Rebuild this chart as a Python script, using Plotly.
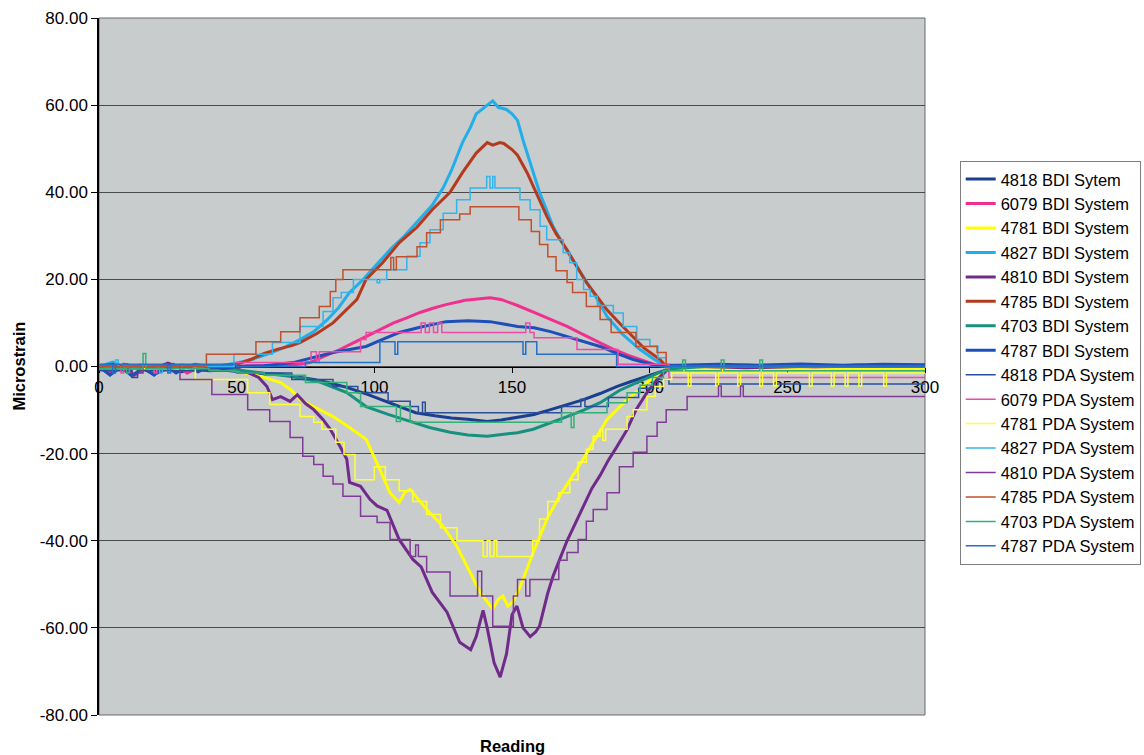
import plotly.graph_objects as go

# ---------------- data ----------------
x_ticks = [0, 50, 100, 150, 200, 250, 300]
y_ticks = [-80, -60, -40, -20, 0, 20, 40, 60, 80]
y_tick_text = ["-80.00", "-60.00", "-40.00", "-20.00", "0.00", "20.00", "40.00", "60.00", "80.00"]

# BDI system (thick, smooth)
bdi_4818_x = [0, 4, 8, 12, 16, 20, 25, 30, 35, 40, 45, 54, 60, 66, 72, 78, 84, 90, 98, 106, 115, 122, 128, 134, 141, 146, 152, 158, 164, 170, 176, 182, 188, 193, 197, 201, 205, 208, 215, 225, 235, 245, 255, 265, 275, 285, 295, 300]
bdi_4818_y = [0, -1.5, -0.3, -2, -0.5, -1.8, -0.4, -1.2, -0.6, -1.0, -0.8, -1.4, -1.6, -1.8, -2.4, -3.0, -3.8, -4.8, -6.5, -8.5, -10.6, -11.3, -11.8, -12.1, -12.6, -12.3, -11.7, -11.0, -9.9, -8.8, -7.6, -6.2, -4.6, -3.5, -2.6, -1.8, -1.0, -0.3, 0.2, 0, 0.3, 0.1, 0.2, 0, 0.3, 0.1, 0.2, 0.1]

bdi_6079_x = [0, 5, 9, 13, 18, 22, 27, 32, 37, 42, 48, 55, 62, 70, 76.6, 82, 87.5, 92, 97, 102, 107, 112, 116.6, 121, 126, 133, 138, 142, 146, 152, 158, 164, 170, 175, 180, 187, 192, 196.5, 200, 203, 206, 215, 230, 245, 260, 275, 290, 300]
bdi_6079_y = [0, -1.5, 0.5, -2, 0, -1, 0.5, -1.5, 0, -0.5, 0, 0.2, 0.2, 0.3, 0.9, 2.3, 3.9, 5.3, 6.9, 8.5, 10, 11.2, 12.4, 13.3, 14.2, 15.2, 15.6, 15.8, 15.4, 14.0, 12.4, 10.8, 9.2, 7.6, 6.0, 3.9, 2.6, 1.6, 0.8, 0.2, 0, 0, -0.2, 0, -0.2, 0, -0.1, 0]

bdi_4781_x = [0, 10, 20, 30, 40, 45, 50, 55, 60, 66, 70, 73, 79, 85, 91, 97, 102, 105.7, 109, 111, 113, 116, 119, 125, 130, 133.7, 138.4, 141, 143, 145, 146.7, 148.5, 150.4, 153, 157.7, 162.7, 167.5, 173.6, 179.4, 184.5, 188, 191.8, 196, 199, 203, 207, 220, 240, 260, 280, 300]
bdi_4781_y = [0, -0.5, 0.3, -0.6, 0, -0.5, -1, -1.8, -2.5, -3.7, -5.5, -7.6, -9.5, -11.5, -14, -16.7, -23.6, -29, -31.2, -29, -28.2, -30.5, -32.8, -36.7, -41.3, -45.9, -51.8, -54, -55.7, -53.5, -52.7, -55, -54, -50.5, -42.7, -35, -29.5, -23.6, -17.4, -12.2, -10, -7.6, -5.5, -3.7, -2, -0.5, -0.8, -0.5, -0.8, -0.5, -0.6]

bdi_4827_x = [0, 5, 10, 15, 20, 25, 30, 35, 40, 45, 50, 55, 61, 67, 73, 78, 83, 87, 91, 96, 101, 106, 111, 116, 121, 125, 128, 132, 135, 137, 140, 143, 145, 148, 150, 152, 154, 156.6, 160, 165, 170, 175, 180, 184.5, 190, 196.5, 202, 206, 215, 230, 245, 260, 275, 290, 300]
bdi_4827_y = [0, 1, -0.5, 0.3, -1, 0.2, -0.3, 0.5, 0, 0.3, 0.8, 1.5, 2.8, 4.3, 6.2, 8.0, 10.8, 13.5, 17.0, 20.0, 23.5, 27.0, 30.0, 33.5, 37.0, 41.0, 45.0, 51.4, 55.0, 58.0, 59.5, 61.0, 59.5, 59.0, 58.0, 56.5, 52.0, 46.8, 40.0, 32.0, 26.5, 21.5, 16.5, 11.5, 7.5, 3.9, 1.5, 0, 0.3, 0, 0.2, 0, 0.3, 0, 0.1]

bdi_4810_x = [0, 5, 10, 15, 20, 25, 30, 35, 40, 45, 50, 54, 58, 61, 63, 66, 69.4, 72, 75, 78, 81.4, 84, 87.5, 90, 91, 95, 98.4, 101, 104.6, 109, 114, 117, 121, 126.4, 131, 135, 137, 139.5, 141, 143.5, 145.7, 148, 150, 151.8, 154, 156.6, 158.5, 160, 163, 165, 167.5, 170, 173, 176, 179, 182, 185, 188, 191.8, 195, 199, 202.7, 206, 210, 220, 235, 250, 265, 280, 300]
bdi_4810_y = [0, 0.5, -0.8, 0.3, -0.5, 0.8, -0.3, 0.4, -0.2, 0, -0.5, -1.4, -2.5, -4.6, -7.6, -6.9, -8.0, -6.5, -8.5, -9.9, -12.2, -14.4, -18.3, -21.3, -26.6, -27.5, -30.5, -32, -33, -39.7, -44.3, -46, -51.8, -56.4, -63.3, -65, -62, -56, -60, -68, -71.3, -66, -57, -55, -60, -62, -61, -59.6, -52, -48, -44, -40, -36, -32, -28, -25, -21.5, -18.5, -14.5, -10, -6, -3, -1, 0, 0, -0.3, 0, 0.2, 0, 0]

bdi_4785_x = [0, 10, 20, 30, 40, 45, 50, 55, 60, 65, 70, 73, 79, 85, 89, 93.7, 97, 103, 109, 115.5, 121, 127.5, 132, 137, 141, 143, 145.6, 147, 150, 152, 155.5, 159, 162.7, 166, 170, 173.5, 177, 181, 184.5, 189, 194, 198, 203.8, 206, 220, 240, 260, 280, 300]
bdi_4785_y = [0, 0.2, -0.2, 0.3, 0, 0.2, 0.5, 1.6, 3.0, 4.0, 4.8, 5.5, 7.5, 10.0, 12.5, 15.4, 20.0, 23.8, 28.4, 32.0, 36.0, 40.0, 44.5, 49.0, 51.4, 50.8, 51.4, 51.2, 49.8, 48.5, 44.5, 39.5, 34.4, 30.5, 26.8, 23.0, 19.3, 16.0, 13.0, 10.0, 6.9, 4.2, 1.6, 0, 0, 0.2, 0, 0.1, 0]

bdi_4703_x = [0, 5, 10, 15, 20, 25, 30, 35, 40, 45, 50, 60, 70, 80, 90, 97, 105, 113, 120, 127.5, 134, 141, 148, 152, 157.7, 164, 170, 176, 182, 189, 196.5, 203, 208, 220, 240, 260, 280, 300]
bdi_4703_y = [0, -0.5, 0.5, -0.8, 0.2, -0.5, 0, -0.6, 0, -0.4, -0.8, -1.5, -2.3, -3.5, -6.0, -9.2, -11.0, -12.6, -14.0, -15.1, -15.7, -16.0, -15.6, -15.2, -14.4, -13.0, -11.5, -10.0, -8.3, -5.5, -3.4, -1.5, -0.5, 0, 0.2, 0, 0.1, 0]

bdi_4787_x = [0, 4, 8, 12, 16, 20, 24, 28, 32, 36, 40, 45, 50, 60, 70.5, 78, 85, 91, 97, 103, 109, 116.6, 126, 134, 142, 152, 158, 164, 170, 176, 182, 188, 194, 202, 210, 225, 240, 255, 270, 285, 300]
bdi_4787_y = [0, -2, 0, -2.2, -0.3, -2, 0.2, -1.5, 0, -1.2, 0, -0.5, 0, 0.2, 0.9, 2.0, 3.2, 3.9, 4.6, 6.2, 7.8, 9.0, 10.3, 10.5, 10.3, 9.2, 8.9, 8.0, 6.9, 5.8, 4.6, 3.0, 1.6, 0.3, 0.3, 0.5, 0.3, 0.6, 0.3, 0.5, 0.4]

# PDA system (thin, stepped)
pda_4818_x = [0, 12, 14, 30, 50, 70, 85, 94, 105, 113, 116, 117.5, 118.5, 168, 175, 176.5, 185, 196, 203, 207, 300]
pda_4818_y = [-1, -2.5, -1, -1, -1.5, -3, -4.6, -6, -8, -9.2, -10.6, -8.2, -10.6, -9.2, -7.5, -9.2, -7.1, -5, -3, -4, -4]

pda_6079_x = [0, 8, 9, 20, 21, 49, 77, 79, 80, 95, 97, 112, 117, 118.5, 120, 121.5, 123, 124.5, 126, 155, 156.5, 158, 173.6, 188.5, 207, 300]
pda_6079_y = [0, -1.5, 0, -1.5, 0, 0.9, 3.4, 0.9, 3.4, 6.2, 7.8, 7.8, 10, 7.8, 10, 7.8, 10, 7.8, 7.8, 10, 7.8, 6.6, 3.9, 0.5, -2.5, -2.5]

pda_4781_x = [0, 35, 54, 62, 73, 78, 81, 86, 89, 93, 100, 104, 109, 114, 119, 124, 130, 139.5, 141, 142, 143.5, 144.5, 157.5, 160, 163, 167, 171, 174, 177, 179.5, 182, 183, 184, 191.8, 194, 199, 202, 205, 208, 214, 215, 224, 225, 232, 233, 240, 241, 245, 246, 258, 259, 266, 267, 271, 272, 276, 277, 285, 286, 300]
pda_4781_y = [-0.5, -3, -6, -8.7, -11.5, -12.8, -14.4, -17.4, -20.2, -26, -23, -26, -28.5, -31, -34, -37, -40, -43.6, -40, -43.6, -40, -43.6, -40, -35, -31, -29, -26, -22, -19, -16, -14.4, -17, -14.4, -11.5, -9.9, -6.9, -4.6, -3, -1.5, -4.5, -1.5, -4.5, -1.5, -4.5, -1.5, -4.5, -1.5, -4.5, -1.5, -4.5, -1.5, -4.5, -1.5, -4.5, -1.5, -4.5, -1.5, -4.5, -1.5, -1.5]

pda_4827_x = [0, 6, 7, 22, 23, 49, 63, 73, 81.4, 85, 88, 92.4, 101, 102, 104.5, 111.8, 116.6, 120.2, 125, 129.9, 134.8, 140.8, 142, 143, 143.8, 152.9, 156.6, 160.2, 162.6, 168.6, 171, 173.5, 176, 178.4, 181, 186.8, 190.4, 195.3, 200.1, 203, 206, 300]
pda_4827_y = [0, 1.5, 0, -1.5, 0, 2.8, 5.5, 9.2, 12.6, 15.8, 17, 20, 19.2, 20, 22.2, 25.3, 28.4, 31.4, 35.2, 38.3, 41, 43.6, 41, 43.6, 41, 38.3, 36, 32.2, 29.1, 26.1, 23.8, 20, 17.7, 16.1, 14, 12.3, 9.2, 6.2, 4.7, 2, 0, 0]

pda_4810_x = [0, 15, 16, 29.4, 41, 54, 62, 69.4, 74, 78, 81.4, 85, 88.6, 95, 101, 105.7, 113, 115, 116, 119, 127.5, 137.5, 139, 143, 150.5, 152, 155, 156.5, 167, 170, 174, 177, 179.5, 184.5, 189, 194, 199, 202.7, 206, 213.6, 225, 226, 233, 234, 300]
pda_4810_y = [-0.5, -1.5, 0, -3, -6.4, -9.9, -12.6, -16.3, -20.6, -22.5, -25.2, -27, -29.8, -34.4, -35.8, -39.7, -43.6, -41, -43.6, -47.2, -52.7, -47, -52.7, -59.6, -52.7, -48.9, -52.7, -48.9, -44.5, -42.7, -39.7, -35.5, -32.8, -29, -23, -19.7, -16, -12.8, -9.9, -6.9, -4.5, -6.9, -4.5, -6.9, -6.9]

pda_4785_x = [0, 39, 57, 66, 73, 80, 84, 86, 88.6, 106, 107, 108, 115.5, 119, 124, 131, 134.8, 152.5, 157, 160, 163, 166, 170, 172, 177, 182, 186, 195, 202.7, 206, 300]
pda_4785_y = [0, 2.8, 5.7, 8, 11.2, 13.8, 17.2, 20, 22.2, 25, 22.2, 25.2, 27.5, 30.7, 33.7, 35, 36.7, 33.7, 31, 28, 25.2, 22, 19.3, 17, 13.8, 10.8, 7.8, 4.6, 3.2, 0, 0]

pda_4703_x = [0, 10, 11, 16, 17, 40, 50, 60, 75, 90, 95, 108, 109.5, 113, 168, 171.5, 172.5, 184.5, 191.8, 196.5, 201, 205, 212, 213, 226, 227, 240, 241, 300]
pda_4703_y = [-0.5, -1.5, -0.5, 3, -0.5, -1, -1.5, -2, -3.7, -6, -9.2, -12.6, -9.2, -12.8, -10.6, -14, -10.6, -8.3, -6, -4.3, -2.5, -1, 1.5, -1, 1.5, -1, 1.5, -1, -1]

pda_4787_x = [0, 5, 6, 25, 26, 50, 75, 102, 107.5, 108.5, 154, 155, 159, 188, 300]
pda_4787_y = [0.5, -1.5, 0.5, -1.5, 0.5, 0, 0.9, 5.7, 2.8, 5.7, 2.8, 5.7, 2.8, 0, 0]

# ---------------- series definitions ----------------
series = [
    ("4818 BDI Sytem", bdi_4818_x, bdi_4818_y, "#1b3f8f", 3, "linear"),
    ("6079 BDI System", bdi_6079_x, bdi_6079_y, "#f0308f", 3, "linear"),
    ("4781 BDI System", bdi_4781_x, bdi_4781_y, "#ffff00", 3, "linear"),
    ("4827 BDI System", bdi_4827_x, bdi_4827_y, "#22aee8", 3, "linear"),
    ("4810 BDI System", bdi_4810_x, bdi_4810_y, "#6f2a8a", 3, "linear"),
    ("4785 BDI System", bdi_4785_x, bdi_4785_y, "#b33a1e", 3, "linear"),
    ("4703 BDI System", bdi_4703_x, bdi_4703_y, "#17907f", 3, "linear"),
    ("4787 BDI System", bdi_4787_x, bdi_4787_y, "#1d4fb8", 3, "linear"),
    ("4818 PDA System", pda_4818_x, pda_4818_y, "#2a4f9a", 1.5, "hv"),
    ("6079 PDA System", pda_6079_x, pda_6079_y, "#ef4aa5", 1.5, "hv"),
    ("4781 PDA System", pda_4781_x, pda_4781_y, "#ffff33", 1.5, "hv"),
    ("4827 PDA System", pda_4827_x, pda_4827_y, "#33b5ec", 1.5, "hv"),
    ("4810 PDA System", pda_4810_x, pda_4810_y, "#803a98", 1.5, "hv"),
    ("4785 PDA System", pda_4785_x, pda_4785_y, "#c0502e", 1.5, "hv"),
    ("4703 PDA System", pda_4703_x, pda_4703_y, "#33b07a", 1.5, "hv"),
    ("4787 PDA System", pda_4787_x, pda_4787_y, "#2370c8", 1.5, "hv"),
]

fig = go.Figure()
for name, xs, ys, color, width, shape in series:
    fig.add_trace(go.Scatter(x=xs, y=ys, mode="lines", name=name,
                             line=dict(color=color, width=width, shape=shape)))

font_family = "Arial, Liberation Sans, sans-serif"

fig.update_layout(
    width=1144, height=755, autosize=False,
    margin=dict(l=99, r=219, t=18, b=40, pad=0, autoexpand=False),
    paper_bgcolor="white",
    plot_bgcolor="#c8cccc",
    font=dict(family=font_family, size=16, color="black"),
    showlegend=True,
    legend=dict(
        x=1.042, y=0.795, xanchor="left", yanchor="top",
        bgcolor="white", bordercolor="#7f7f7f", borderwidth=1,
        font=dict(family=font_family, size=16.5, color="black"),
        tracegroupgap=0, itemwidth=30,
    ),
    xaxis=dict(
        range=[0, 300], tickvals=x_ticks, ticktext=[str(v) for v in x_ticks],
        anchor="free", position=0.5, showline=True, linecolor="black", linewidth=1,
        ticks="outside", ticklen=5, tickcolor="black", showgrid=False, zeroline=False,
        tickfont=dict(family=font_family, size=17, color="black"),
        layer="below traces",
    ),
    yaxis=dict(
        range=[-80, 80], tickvals=y_ticks, ticktext=y_tick_text,
        showline=True, linecolor="black", linewidth=1.5,
        ticks="outside", ticklen=6, tickcolor="black",
        showgrid=True, gridcolor="#4a4a4a", gridwidth=1, zeroline=False,
        tickfont=dict(family=font_family, size=17, color="black"),
        layer="below traces",
    ),
    shapes=[dict(type="rect", xref="paper", yref="paper", x0=0, y0=0, x1=1, y1=1,
                 line=dict(color="#6a6a6a", width=1), layer="below")],
    annotations=[
        dict(text="<b>Reading</b>", xref="paper", yref="paper", x=0.5, y=-0.045,
             xanchor="center", yanchor="middle", showarrow=False,
             font=dict(family=font_family, size=16.5, color="black")),
        dict(text="<b>Microstrain</b>", xref="paper", yref="paper", x=-0.098, y=0.5,
             xanchor="center", yanchor="middle", showarrow=False, textangle=-90,
             font=dict(family=font_family, size=16.5, color="black")),
    ],
)

fig.write_html("out.html")
